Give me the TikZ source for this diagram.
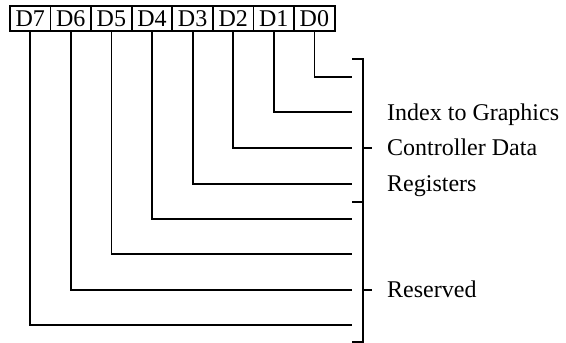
\documentclass[tikz,border=0pt]{standalone}
\usepackage{fontspec}
\setmainfont{Liberation Serif}
\begin{document}
\begin{tikzpicture}[x=1pt,y=-1pt,
  bitbox/.style={draw,line width=1.8pt,minimum width=40.6pt,minimum height=25pt,inner sep=0pt,anchor=north west,font=\fontsize{24}{28}\selectfont},
  wire/.style={line width=1.8pt},
  lbl/.style={anchor=base west,inner sep=0pt,font=\fontsize{24}{28}\selectfont}]
\useasboundingbox (0,0) rectangle (566,343);
\foreach \i/\n in {0/7,1/6,2/5,3/4,4/3,5/2,6/1,7/0}{
  \node[bitbox] (b\n) at ({9+40.6*\i},5) {D\n};
}
\foreach \n/\y in {0/77,1/112,2/148,3/184,4/219,5/254,6/290,7/325}{
  \coordinate (e\n) at (352,\y);
  \draw[wire] (b\n.south) |- (e\n);
}
% bracket
\coordinate (bt) at (363,59);
\coordinate (bb) at (363,342);
\coordinate (bm) at (363,202);
\coordinate (t1) at (363,148);
\coordinate (t2) at (363,290);
\draw[wire] (352,59) -- (bt) -- (bb) -- (352,342);
\draw[wire] (bm) -- (352,202);
\draw[wire] (t1) -- (372,148);
\draw[wire] (t2) -- (372,290);
\node[lbl] (l1) at (387,120) {Index to Graphics};
\node[lbl] (l2) at (387,155) {Controller Data};
\node[lbl] (l3) at (387,191) {Registers};
\node[lbl] (l4) at (387,297) {Reserved};
\end{tikzpicture}
\end{document}
